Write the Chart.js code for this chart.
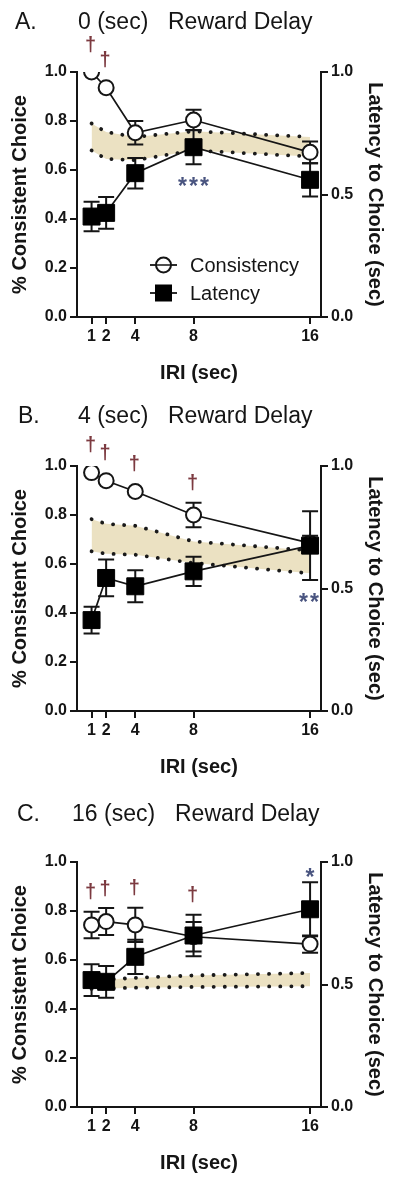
<!DOCTYPE html>
<html><head><meta charset="utf-8">
<script src="https://cdn.jsdelivr.net/npm/chart.js@4.4.1/dist/chart.umd.min.js"></script>
<style>
html,body{margin:0;padding:0;background:#fff;}
#wrap{position:relative;width:400px;height:1185px;overflow:hidden;}
.panel{position:absolute;left:0;width:400px;height:395px;}
</style></head><body>
<div id="wrap">
<div class="panel" style="top:0px"><canvas id="cA"></canvas></div>
<div class="panel" style="top:394px"><canvas id="cB"></canvas></div>
<div class="panel" style="top:790px"><canvas id="cC"></canvas></div>
</div>
<script>
// ---------- data ----------
const IRI = [1, 2, 4, 8, 16];
const xTickValues = [1, 2, 4, 8, 16];
const xTickLabels = ['1', '2', '4', '8', '16'];
const leftTickValues = [0, 0.2, 0.4, 0.6, 0.8, 1.0];
const leftTickLabels = ['0.0', '0.2', '0.4', '0.6', '0.8', '1.0'];
const rightTickValues = [0, 0.5, 1.0];
const rightTickLabels = ['0.0', '0.5', '1.0'];

// Panel A: 0 (sec) reward delay
const consistencyA    = [1.00, 0.936, 0.752, 0.804, 0.672];
const consistencyErrA = [0, 0, 0.048, 0.042, 0.044];
const latencyA        = [0.41, 0.425, 0.587, 0.693, 0.56];
const latencyErrA     = [0.06, 0.065, 0.062, 0.07, 0.068];
const bandUpperA      = [0.79, 0.755, 0.735, 0.758, 0.735];
const bandLowerA      = [0.68, 0.645, 0.64, 0.68, 0.655];
const daggersA        = [1, 2];
const starsA          = [{x: 8, text: '***', where: 'below'}];

// Panel B: 4 (sec) reward delay
const consistencyB    = [0.973, 0.94, 0.896, 0.80, 0.685];
const consistencyErrB = [0, 0, 0, 0.05, 0.03];
const latencyB        = [0.371, 0.543, 0.509, 0.57, 0.675];
const latencyErrB     = [0.055, 0.075, 0.065, 0.06, 0.14];
const bandUpperB      = [0.783, 0.764, 0.756, 0.692, 0.655];
const bandLowerB      = [0.652, 0.642, 0.638, 0.604, 0.562];
const daggersB        = [1, 2, 4, 8];
const starsB          = [{x: 16, text: '**', where: 'below'}];

// Panel C: 16 (sec) reward delay
const consistencyC    = [0.743, 0.757, 0.743, 0.695, 0.665];
const consistencyErrC = [0.054, 0.055, 0.07, 0.06, 0.035];
const latencyC        = [0.518, 0.511, 0.613, 0.70, 0.807];
const latencyErrC     = [0.065, 0.065, 0.07, 0.085, 0.11];
const bandUpperC      = [0.515, 0.52, 0.527, 0.537, 0.547];
const bandLowerC      = [0.482, 0.484, 0.487, 0.49, 0.493];
const daggersC        = [1, 2, 4, 8];
const starsC          = [{x: 16, text: '*', where: 'above'}];

const titlesA = ['A.', '0 (sec)', 'Reward Delay'];
const titlesB = ['B.', '4 (sec)', 'Reward Delay'];
const titlesC = ['C.', '16 (sec)', 'Reward Delay'];

// ---------- rendering ----------
const FAM = '"Liberation Sans", Arial, Helvetica, sans-serif';
Chart.defaults.font.family = FAM;
const INK = '#151515';

function toXY(vals) { return IRI.map((x, i) => ({x: x, y: vals[i]})); }

const errorBarPlugin = {
  id: 'errbars',
  beforeDatasetDraw(chart, args) {
    const ds = chart.data.datasets[args.index];
    if (!ds.errors) return;
    const ctx = chart.ctx, xs = chart.scales.x, ys = chart.scales[ds.yAxisID];
    ctx.save();
    ctx.strokeStyle = INK; ctx.lineWidth = 2;
    ds.data.forEach((p, i) => {
      const e = ds.errors[i];
      if (!e) return;
      const px = xs.getPixelForValue(p.x);
      const yt = ys.getPixelForValue(p.y + e), yb = ys.getPixelForValue(p.y - e);
      ctx.beginPath();
      ctx.moveTo(px, yt); ctx.lineTo(px, yb);
      ctx.moveTo(px - 8, yt); ctx.lineTo(px + 8, yt);
      ctx.moveTo(px - 8, yb); ctx.lineTo(px + 8, yb);
      ctx.stroke();
    });
    ctx.restore();
  }
};

const decorPlugin = {
  id: 'decor',
  afterDraw(chart) {
    const P = chart.options.plugins.decor;
    const ctx = chart.ctx, xs = chart.scales.x, y = chart.scales.y, y2 = chart.scales.y2;
    ctx.save();
    // panel title
    ctx.fillStyle = INK;
    ctx.font = '23px ' + FAM;
    ctx.textBaseline = 'alphabetic';
    ctx.textAlign = 'left';
    P.titles.forEach((t, i) => ctx.fillText(t, P.titleX[i], P.titleY));

    function topPix(i) {
      const a = y.getPixelForValue(P.consistency[i] + (P.consistencyErr[i] || 0));
      const b = y2.getPixelForValue(P.latency[i] + (P.latencyErr[i] || 0));
      return Math.min(a, b, y.getPixelForValue(P.consistency[i]) - 8, y2.getPixelForValue(P.latency[i]) - 9);
    }
    // daggers
    ctx.fillStyle = '#7c3a40';
    ctx.font = 'bold 20px ' + FAM;
    ctx.textAlign = 'center';
    ctx.textBaseline = 'middle';
    P.daggers.forEach(xv => {
      const i = IRI.indexOf(xv);
      ctx.fillText('\u2020', xs.getPixelForValue(xv) - 1, topPix(i) - 19);
    });
    // significance stars (latency)
    ctx.fillStyle = '#4a5580';
    ctx.font = 'bold 23px ' + FAM;
    ctx.textBaseline = 'alphabetic';
    P.stars.forEach(s => {
      const i = IRI.indexOf(s.x);
      const px = xs.getPixelForValue(s.x);
      let cy;
      if (s.where === 'below') cy = y2.getPixelForValue(P.latency[i] - P.latencyErr[i]) + 17;
      else cy = y2.getPixelForValue(P.latency[i] + P.latencyErr[i]) - 10;
      const n = s.text.length, step = 11;
      for (let k = 0; k < n; k++) {
        ctx.fillText('*', px + (k - (n - 1) / 2) * step + P.starDx, cy + 13);
      }
    });
    // legend
    if (P.legend) {
      const lx = 150, lw = 27, tx = 190;
      const rows = [{label: 'Consistency', y: 265, shape: 'circle'}, {label: 'Latency', y: 293, shape: 'square'}];
      ctx.font = '20px ' + FAM;
      ctx.textAlign = 'left';
      ctx.textBaseline = 'middle';
      rows.forEach(r => {
        ctx.strokeStyle = INK; ctx.lineWidth = 1.8;
        ctx.beginPath(); ctx.moveTo(lx, r.y); ctx.lineTo(lx + lw, r.y); ctx.stroke();
        const cx = lx + lw / 2;
        if (r.shape === 'circle') {
          ctx.beginPath(); ctx.arc(cx, r.y, 7.5, 0, Math.PI * 2);
          ctx.fillStyle = '#fff'; ctx.fill(); ctx.lineWidth = 2; ctx.stroke();
          ctx.beginPath(); ctx.moveTo(cx - 7.5, r.y); ctx.lineTo(cx + 7.5, r.y); ctx.lineWidth = 1.5; ctx.stroke();
        } else {
          ctx.fillStyle = '#000'; ctx.fillRect(cx - 8.5, r.y - 8.5, 17, 17);
        }
        ctx.fillStyle = INK;
        ctx.fillText(r.label, tx, r.y + 1);
      });
    }
    ctx.restore();
  }
};

function tickOpts(values, labels) {
  return {
    afterBuildTicks: s => { s.ticks = values.map(v => ({value: v})); },
    ticks: {
      callback: (v) => { const k = values.findIndex(t => Math.abs(t - v) < 1e-9); return k >= 0 ? labels[k] : ''; },
      font: {family: FAM, size: 16, weight: 'bold'}, color: INK, padding: 3,
      maxRotation: 0, autoSkip: false
    },
    grid: {display: true, drawOnChartArea: false, drawTicks: true, tickLength: 7, color: INK, lineWidth: 2},
    border: {display: true, color: INK, width: 2}
  };
}

function buildChart(id, P) {
  const datasets = [
    {label: 'Latency', data: toXY(P.latency), yAxisID: 'y2', errors: P.latencyErr,
     borderColor: INK, borderWidth: 1.7, pointStyle: 'rect', pointRadius: 12,
     pointBackgroundColor: '#000', pointBorderColor: '#000', pointBorderWidth: 1, fill: false, tension: 0},
    {label: 'Consistency', data: toXY(P.consistency), yAxisID: 'y', errors: P.consistencyErr,
     borderColor: INK, borderWidth: 1.7, pointStyle: 'circle', pointRadius: 7.5,
     pointBackgroundColor: '#fff', pointBorderColor: INK, pointBorderWidth: 2, fill: false, tension: 0},
    {label: 'bandUpper', data: toXY(P.bandUpper), yAxisID: 'y2',
     borderColor: '#1a1a1a', borderWidth: 3.8, borderDash: [0.1, 11], borderCapStyle: 'round',
     pointRadius: 0, fill: false, tension: 0},
    {label: 'bandLower', data: toXY(P.bandLower), yAxisID: 'y2',
     borderColor: '#1a1a1a', borderWidth: 3.8, borderDash: [0.1, 11], borderCapStyle: 'round',
     pointRadius: 0, fill: '-1', backgroundColor: '#ebe1c2', tension: 0}
  ];
  const xo = tickOpts(xTickValues, xTickLabels);
  const yo = tickOpts(leftTickValues, leftTickLabels);
  const y2o = tickOpts(rightTickValues, rightTickLabels);
  return new Chart(document.getElementById(id), {
    type: 'line',
    data: {datasets},
    options: {
      responsive: true, maintainAspectRatio: false, animation: false, devicePixelRatio: 1,
      layout: {padding: {top: 72, left: 0, right: 0, bottom: 0}},
      plugins: {legend: {display: false}, tooltip: {enabled: false}, decor: P},
      events: [],
      scales: {
        x: Object.assign(xo, {type: 'linear', min: 0, max: 16.75,
          title: {display: true, text: 'IRI (sec)', color: INK, font: {family: FAM, size: 20, weight: 'bold'}, padding: {top: 0, bottom: 10}},
          afterFit: s => { s.height = 78; }}),
        y: Object.assign(yo, {type: 'linear', position: 'left', min: 0, max: 1,
          title: {display: true, text: '% Consistent Choice', color: INK, font: {family: FAM, size: 20, weight: 'bold'}, padding: {top: 8, bottom: 0}},
          afterFit: s => { s.width = 77; }}),
        y2: Object.assign(y2o, {type: 'linear', position: 'right', min: 0, max: 1,
          title: {display: true, text: 'Latency to Choice (sec)', color: INK, font: {family: FAM, size: 20, weight: 'bold'}, padding: {top: 13, bottom: 0}},
          afterFit: s => { s.width = 79; }})
      }
    },
    plugins: [errorBarPlugin, decorPlugin]
  });
}

buildChart('cA', {consistency: consistencyA, consistencyErr: consistencyErrA, latency: latencyA, latencyErr: latencyErrA,
  bandUpper: bandUpperA, bandLower: bandLowerA, daggers: daggersA, stars: starsA, starDx: 0,
  titles: titlesA, titleX: [15, 78, 168], titleY: 29, legend: true});
buildChart('cB', {consistency: consistencyB, consistencyErr: consistencyErrB, latency: latencyB, latencyErr: latencyErrB,
  bandUpper: bandUpperB, bandLower: bandLowerB, daggers: daggersB, stars: starsB, starDx: -1,
  titles: titlesB, titleX: [18, 78, 168], titleY: 29, legend: false});
buildChart('cC', {consistency: consistencyC, consistencyErr: consistencyErrC, latency: latencyC, latencyErr: latencyErrC,
  bandUpper: bandUpperC, bandLower: bandLowerC, daggers: daggersC, stars: starsC, starDx: 0,
  titles: titlesC, titleX: [17, 72, 175], titleY: 31, legend: false});
</script>
</body></html>
